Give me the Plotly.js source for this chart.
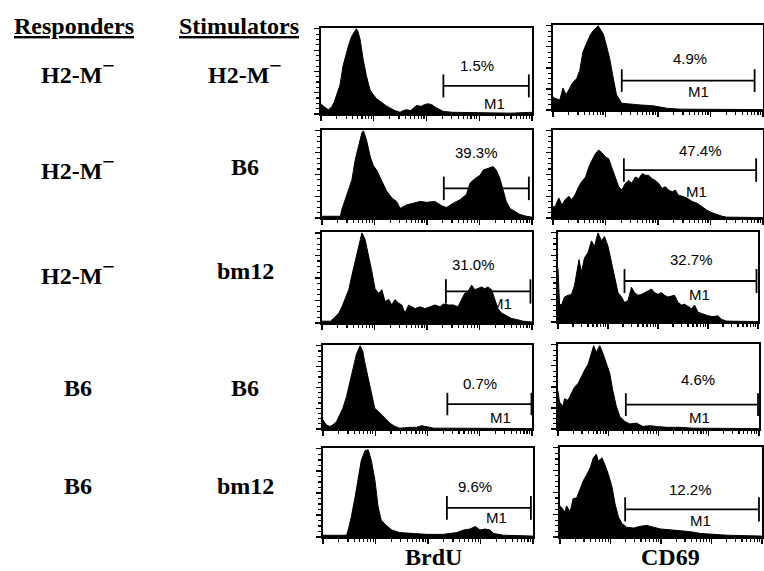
<!DOCTYPE html>
<html><head><meta charset="utf-8">
<script src="https://cdn.plot.ly/plotly-3.0.1.min.js"></script>
<style>html,body{margin:0;padding:0;background:#fff}#chart{width:764px;height:571px}</style>
</head><body><div id="chart"></div>
<script>
// ---- Data (x in decades of log fluorescence, y in % of panel max) ----
const brdu1_d = [0,0.05,0.14,0.2,0.25,0.3,0.36,0.42,0.47,0.52,0.58,0.63,0.67,0.7,0.74,0.8,0.86,0.93,1.0,1.05,1.12,1.18,1.25,1.31,1.4,1.5,1.56,1.62,1.7,1.81,1.9,1.96,2.03,2.1,2.19,2.26,2.32,2.5,2.8,3.2,3.6,4.0];
const brdu1_h = [12,9,5,8,14,22,34,57,70,80,91,96,100,97,88,64,45,28,22,18,15,12,9,7,4,2,4,5,4,10,9,11,12,11,7,5,3,2,1.5,1.5,1,2];

const cd69_1_d = [0,0.03,0.13,0.19,0.25,0.32,0.38,0.45,0.51,0.57,0.64,0.70,0.76,0.83,0.86,0.89,0.96,1.02,1.08,1.15,1.21,1.31,1.46,1.66,1.91,2.17,2.42,2.93,3.57,4.0];
const cd69_1_h = [16,14,12,26,18,27,33,37,47,69,80,88,94,99,100,97,90,76,61,37,18,8,7,6,5,2,1,1,0.5,0.5];

const brdu2_d = [0,0.35,0.38,0.47,0.57,0.63,0.70,0.76,0.79,0.85,0.92,0.98,1.04,1.11,1.17,1.23,1.33,1.42,1.49,1.61,1.74,1.87,1.99,2.15,2.28,2.37,2.50,2.63,2.75,2.82,2.91,3.01,3.07,3.16,3.26,3.32,3.39,3.45,3.51,3.58,3.67,3.77,3.89,4.0];
const brdu2_h = [2,2,10,27,44,66,85,98,100,89,70,60,55,46,38,31,23,19,11,15,17,19,18,19,14,12,17,21,27,40,45,49,55,57,59,55,45,32,19,11,8,4,2,1];

const cd69_2_d = [0,0.04,0.11,0.17,0.23,0.30,0.36,0.43,0.49,0.55,0.62,0.68,0.74,0.81,0.87,0.93,1.00,1.06,1.12,1.19,1.25,1.31,1.38,1.44,1.50,1.57,1.63,1.70,1.76,1.82,1.89,1.95,2.01,2.08,2.14,2.20,2.27,2.33,2.39,2.46,2.55,2.65,2.74,2.84,2.93,3.03,3.12,3.22,3.31,4.0];
const cd69_2_h = [13,13,23,15,21,25,21,28,36,42,47,58,66,74,78,75,70,68,58,47,36,32,40,43,40,47,45,51,49,49,45,43,40,34,36,32,30,32,26,25,23,19,17,13,9,6,4,2,1,0.5];

const brdu3_d = [0,0.16,0.22,0.32,0.38,0.44,0.51,0.57,0.63,0.70,0.76,0.82,0.89,0.95,1.01,1.08,1.14,1.20,1.27,1.33,1.39,1.46,1.52,1.58,1.65,1.71,1.77,1.87,1.96,2.06,2.15,2.25,2.31,2.41,2.50,2.59,2.66,2.72,2.78,2.85,2.91,2.97,3.04,3.10,3.16,3.23,3.29,3.35,3.42,3.51,3.61,3.70,3.83,4.0];
const brdu3_h = [2,2,5,11,18,26,37,53,68,86,100,93,75,57,38,33,37,24,26,20,26,22,20,11,20,18,16,18,16,18,20,18,21,20,20,18,26,33,35,42,37,38,40,38,40,37,26,16,11,8,5,4,2,1];

const cd69_3_d = [0,0.03,0.07,0.13,0.20,0.27,0.33,0.38,0.42,0.47,0.53,0.60,0.67,0.73,0.80,0.87,0.93,1.00,1.07,1.13,1.20,1.27,1.33,1.40,1.47,1.53,1.60,1.67,1.73,1.80,1.87,1.93,2.00,2.07,2.13,2.20,2.27,2.33,2.40,2.47,2.53,2.60,2.67,2.73,2.80,2.90,3.00,3.10,3.20,3.27,3.37,4.0];
const cd69_3_h = [60,20,19,28,30,31,41,59,70,56,72,78,91,85,100,91,96,85,67,52,33,28,22,24,39,33,30,31,33,35,37,33,31,33,30,28,29,30,22,19,20,17,15,19,11,9,7,6,7,3,1,0.5];

const brdu4_d = [0,0.06,0.13,0.19,0.26,0.32,0.38,0.45,0.51,0.58,0.64,0.71,0.76,0.80,0.87,0.93,0.99,1.06,1.12,1.19,1.28,1.38,1.47,1.67,1.79,1.89,1.99,2.12,2.31,2.95,4.0];
const brdu4_h = [11,5,3,5,9,17,25,39,55,74,90,100,94,80,59,39,25,21,17,13,7,3,1,2,2,4,3,1,1,1,0.5];

const cd69_4_d = [0,0.03,0.10,0.13,0.20,0.27,0.33,0.40,0.46,0.53,0.60,0.66,0.71,0.76,0.83,0.90,0.96,1.03,1.09,1.16,1.23,1.33,1.43,1.56,1.69,1.82,1.96,2.16,2.42,2.69,4.0];
const cd69_4_h = [45,32,27,36,34,42,50,54,62,70,77,89,99,91,99,89,77,66,46,27,15,9,6,7,3,4,3,2,2,1,0.5];

const brdu5_d = [0,0.45,0.48,0.54,0.61,0.67,0.73,0.80,0.86,0.92,0.99,1.05,1.11,1.21,1.31,1.46,1.72,1.97,2.29,2.55,2.68,2.80,2.90,2.99,3.09,3.18,3.25,3.44,4.0];
const brdu5_h = [2,2,8,23,45,68,87,98,99,87,64,34,19,13,8,5,4,3,3,5,8,9,12,8,9,8,4,2,1];

const cd69_5_d = [0,0.03,0.10,0.13,0.20,0.26,0.33,0.40,0.46,0.53,0.60,0.66,0.72,0.76,0.83,0.89,0.96,1.03,1.09,1.16,1.23,1.32,1.46,1.59,1.72,1.85,1.99,2.19,2.38,2.58,2.78,2.98,3.31,4.0];
const cd69_5_h = [35,33,28,35,28,43,44,54,63,70,78,89,93,85,89,81,70,56,37,22,15,11,10,12,13,11,9,8,7,6,4,3,2,1];

// Gate M1 per panel (row-major: BrdU, CD69, BrdU, CD69, ...)
const gateStart = [2.32,1.31,2.32,1.35,2.36,1.33,2.38,1.35,2.36,1.29];
const gateEnd   = [3.94,3.84,3.94,3.87,3.97,3.97,3.99,3.98,3.96,3.94];
const gateLevel = [33,35,34,55,35,46,30,29,33,31];
const pctLabels = ['1.5%','4.9%','39.3%','47.4%','31.0%','32.7%','0.7%','4.6%','9.6%','12.2%'];
const pctX = [2.95,2.61,2.94,2.81,2.88,2.67,3.01,2.79,2.90,2.58];
const pctY = [57,61,75,77,65,70,55,59,57,53];
const m1X = [3.29,2.77,null,2.74,3.42,2.83,3.40,2.82,3.31,2.78];
const m1Y = [12,22,null,30,22,31,14,14,22,19];

const SUPMINUS = '<sup><span style="font-size:22px">−</span></sup>';
const responders = ['H2-M' + SUPMINUS,'H2-M' + SUPMINUS,'H2-M' + SUPMINUS,'B6','B6'];
const stimulators = ['H2-M' + SUPMINUS,'B6','bm12','B6','bm12'];
const columnTitles = ['BrdU','CD69'];

// ---- Layout geometry (pixels: left, right, top, bottom) ----
const W = 764, H = 571;
const panelPx = [[321,532,28,114],[553,763,25,110],[322,532,130,218],[553,763,130,218],[322,532,232,323],[558,758,232,322],[323,532,345,429],[558,759,344,429],[323,533,448,537],[560,762,447,537]];
const rowY = [71,167,271,388,486];
const series = [[brdu1_d,brdu1_h],[cd69_1_d,cd69_1_h],[brdu2_d,brdu2_h],[cd69_2_d,cd69_2_h],[brdu3_d,brdu3_h],[cd69_3_d,cd69_3_h],[brdu4_d,brdu4_h],[cd69_4_d,cd69_4_h],[brdu5_d,brdu5_h],[cd69_5_d,cd69_5_h]];

const minorVals = [];
for (let n = 0; n < 4; n++) for (let k = 2; k <= 9; k++) minorVals.push(n + Math.log10(k));

const data = [], shapes = [], annotations = [];
const layout = {width:W, height:H, margin:{l:0,r:0,t:0,b:0}, showlegend:false,
  paper_bgcolor:'#fff', plot_bgcolor:'#fff'};
const CAP = 13.5;
const sansFont = {family:'Liberation Sans, Arial, sans-serif', size:15, color:'#000'};
const serifFont = {family:'Liberation Serif, Times New Roman, serif', size:24, color:'#000'};

series.forEach((s, i) => {
  const n = i + 1, suf = n === 1 ? '' : String(n);
  const xr = 'x' + suf, yr = 'y' + suf;
  const [l, r, t, b] = panelPx[i];
  data.push({x:s[0], y:s[1], xaxis:xr, yaxis:yr, type:'scatter', mode:'lines',
    fill:'tozeroy', fillcolor:'#000', line:{color:'#000', width:1}, hoverinfo:'skip'});
  layout['xaxis' + suf] = {domain:[l/W, r/W], range:[0,4], anchor:yr, showline:true, mirror:true,
    linecolor:'#000', linewidth:2, ticks:'outside', ticklen:5, tickwidth:1.2, tickcolor:'#000',
    tickmode:'array', tickvals:[0,1,2,3,4], showticklabels:false, showgrid:false, zeroline:false,
    minor:{tickmode:'array', tickvals:minorVals, ticks:'outside', ticklen:3, tickwidth:1.2, tickcolor:'#000', showgrid:false},
    fixedrange:true};
  layout['yaxis' + suf] = {domain:[1 - b/H, 1 - t/H], range:[0,101], anchor:xr, showline:true, mirror:true,
    linecolor:'#000', linewidth:2, ticks:'outside', ticklen:5, tickwidth:1.2, tickcolor:'#000',
    dtick:25, showticklabels:false, showgrid:false, zeroline:false,
    minor:{dtick:6.25, ticks:'outside', ticklen:3, tickwidth:1.2, tickcolor:'#000', showgrid:false},
    fixedrange:true};
  const ln = {color:'#000', width:1.8};
  shapes.push({type:'line', xref:xr, yref:yr, x0:gateStart[i], x1:gateEnd[i], y0:gateLevel[i], y1:gateLevel[i], line:ln});
  shapes.push({type:'line', xref:xr, yref:yr, x0:gateStart[i], x1:gateStart[i], y0:gateLevel[i]-CAP, y1:gateLevel[i]+CAP, line:ln});
  shapes.push({type:'line', xref:xr, yref:yr, x0:gateEnd[i], x1:gateEnd[i], y0:gateLevel[i]-CAP, y1:gateLevel[i]+CAP, line:ln});
  annotations.push({xref:xr, yref:yr, x:pctX[i], y:pctY[i], text:pctLabels[i], showarrow:false, font:sansFont, xanchor:'center', yanchor:'middle'});
  if (m1X[i] !== null) annotations.push({xref:xr, yref:yr, x:m1X[i], y:m1Y[i], text:'M1', showarrow:false, font:sansFont, xanchor:'center', yanchor:'middle'});
});

// Row / column labels
annotations.push({xref:'paper', yref:'paper', x:74/W, y:1-26/H, text:'<b><u>Responders</u></b>', showarrow:false, font:serifFont, xanchor:'center', yanchor:'middle'});
annotations.push({xref:'paper', yref:'paper', x:239/W, y:1-26/H, text:'<b><u>Stimulators</u></b>', showarrow:false, font:serifFont, xanchor:'center', yanchor:'middle'});
responders.forEach((t, k) => annotations.push({xref:'paper', yref:'paper', x:78/W, y:1-rowY[k]/H, text:'<b>'+t+'</b>', showarrow:false, font:serifFont, xanchor:'center', yanchor:'middle'}));
stimulators.forEach((t, k) => annotations.push({xref:'paper', yref:'paper', x:245/W, y:1-rowY[k]/H, text:'<b>'+t+'</b>', showarrow:false, font:serifFont, xanchor:'center', yanchor:'middle'}));
annotations.push({xref:'paper', yref:'paper', x:433/W, y:1-557/H, text:'<b>'+columnTitles[0]+'</b>', showarrow:false, font:serifFont, xanchor:'center', yanchor:'middle'});
annotations.push({xref:'paper', yref:'paper', x:670/W, y:1-557/H, text:'<b>'+columnTitles[1]+'</b>', showarrow:false, font:serifFont, xanchor:'center', yanchor:'middle'});

layout.shapes = shapes;
layout.annotations = annotations;
Plotly.newPlot('chart', data, layout, {displayModeBar:false, staticPlot:true});
</script></body></html>
